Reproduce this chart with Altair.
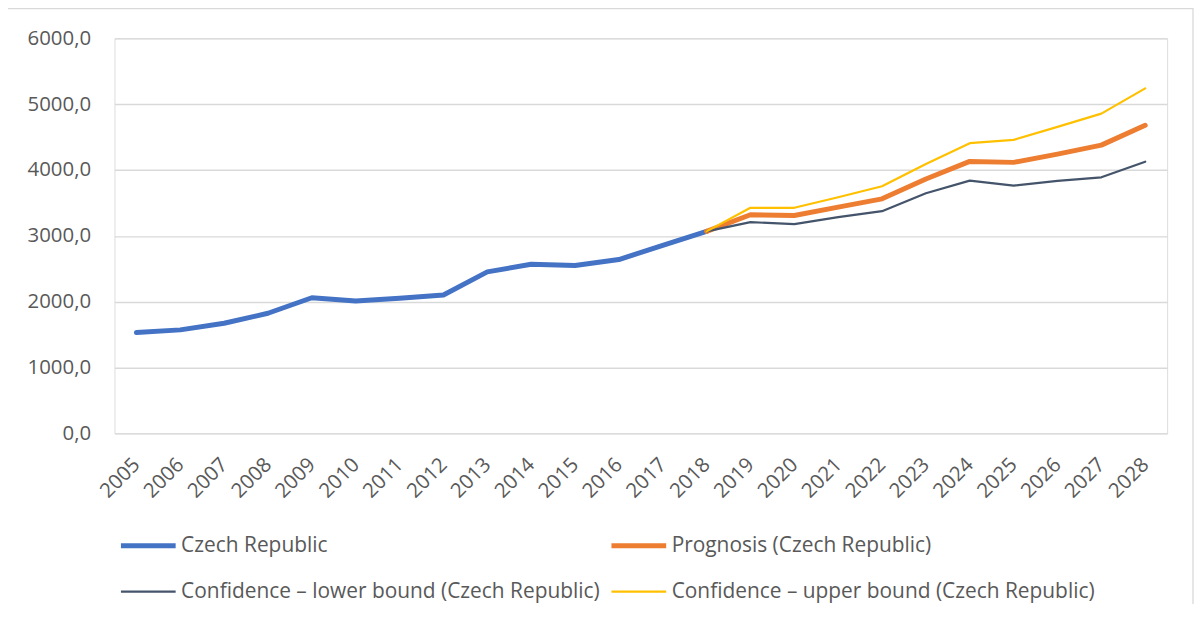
import altair as alt
import pandas as pd

# ---- data ----
years = [str(y) for y in range(2005, 2029)]
hist_years = years[:14]            # 2005-2018
hist_values = [1531, 1572, 1673, 1824, 2060, 2010, 2051, 2101, 2453, 2569, 2549, 2640, 2856, 3068]
fc_years = years[13:]              # 2018-2028
prognosis = [3068, 3320, 3310, 3436, 3562, 3864, 4131, 4116, 4242, 4378, 4680]
lower_bound = [3068, 3209, 3178, 3284, 3375, 3647, 3839, 3763, 3834, 3889, 4126]
upper_bound = [3068, 3426, 3426, 3587, 3753, 4090, 4408, 4458, 4655, 4856, 5240]

name_cz = "Czech Republic"
name_prog = "Prognosis (Czech Republic)"
name_low = "Confidence – lower bound (Czech Republic)"
name_up = "Confidence – upper bound (Czech Republic)"

# legend fills column by column: column 1 = Czech Republic, lower; column 2 = Prognosis, upper
legend_order = [name_cz, name_low, name_prog, name_up]
legend_colors = ["#4472C4", "#44546A", "#ED7D31", "#FFC000"]
legend_widths = [5, 2.2, 5, 2.2]
y_ticks = [0, 1000, 2000, 3000, 4000, 5000, 6000]

rows = []
for y, v in zip(hist_years, hist_values):
    rows.append({"year": y, "value": v, "series": name_cz})
for y, v in zip(fc_years, prognosis):
    rows.append({"year": y, "value": v, "series": name_prog})
for y, v in zip(fc_years, lower_bound):
    rows.append({"year": y, "value": v, "series": name_low})
for y, v in zip(fc_years, upper_bound):
    rows.append({"year": y, "value": v, "series": name_up})
df = pd.DataFrame(rows)

FONT = "Open Sans"
TXT = "#595959"
FS = 20.5

legend_kw = dict(
    title=None, orient="none", legendX=4, legendY=480, columns=2,
    symbolType="stroke", symbolSize=3025, labelFont=FONT, labelFontSize=21,
    labelColor=TXT, labelOffset=3, columnPadding=0, rowPadding=7, padding=0,
    labelLimit=600,
)

lines = alt.Chart(df).mark_line(strokeCap="round", strokeJoin="round").encode(
    x=alt.X("year:O", sort=years, scale=alt.Scale(domain=years),
            axis=alt.Axis(title=None, labelAngle=-45, labelAlign="right",
                          labelBaseline="middle", labelPadding=28, ticks=False,
                          domain=False, grid=False, labelFont=FONT, labelFontSize=FS,
                          labelColor=TXT)),
    y=alt.Y("value:Q", scale=alt.Scale(domain=[0, 6000], nice=False),
            axis=alt.Axis(title=None, values=y_ticks, ticks=False, domain=False,
                          labelExpr="replace(format(datum.value, '.1f'), '.', ',')",
                          labelPadding=24, labelFont=FONT, labelFontSize=FS,
                          labelColor=TXT, gridColor="#D9D9D9", gridWidth=1.4)),
    color=alt.Color("series:N", scale=alt.Scale(domain=legend_order, range=legend_colors),
                    legend=alt.Legend(**legend_kw)),
    strokeWidth=alt.StrokeWidth("series:N",
                                scale=alt.Scale(type="ordinal", domain=legend_order, range=legend_widths),
                                legend=alt.Legend(**legend_kw)),
    detail="series:N",
)

border = alt.Chart(pd.DataFrame({"a": [0]})).mark_rect(
    fill=None, stroke="#D9D9D9", strokeWidth=1.3
).encode(
    x=alt.value(-108), x2=alt.value(1084), y=alt.value(-30), y2=alt.value(620)
)

chart = alt.layer(border, lines).properties(
    width=1058, height=397,
    autosize=alt.AutoSizeParams(type="none"),
    padding={"left": 107, "top": 29, "right": 27, "bottom": 170},
).configure_view(stroke=None, strokeWidth=0).configure(background="white")

chart.save("out.html", embed_options={"renderer": "svg", "actions": False})
